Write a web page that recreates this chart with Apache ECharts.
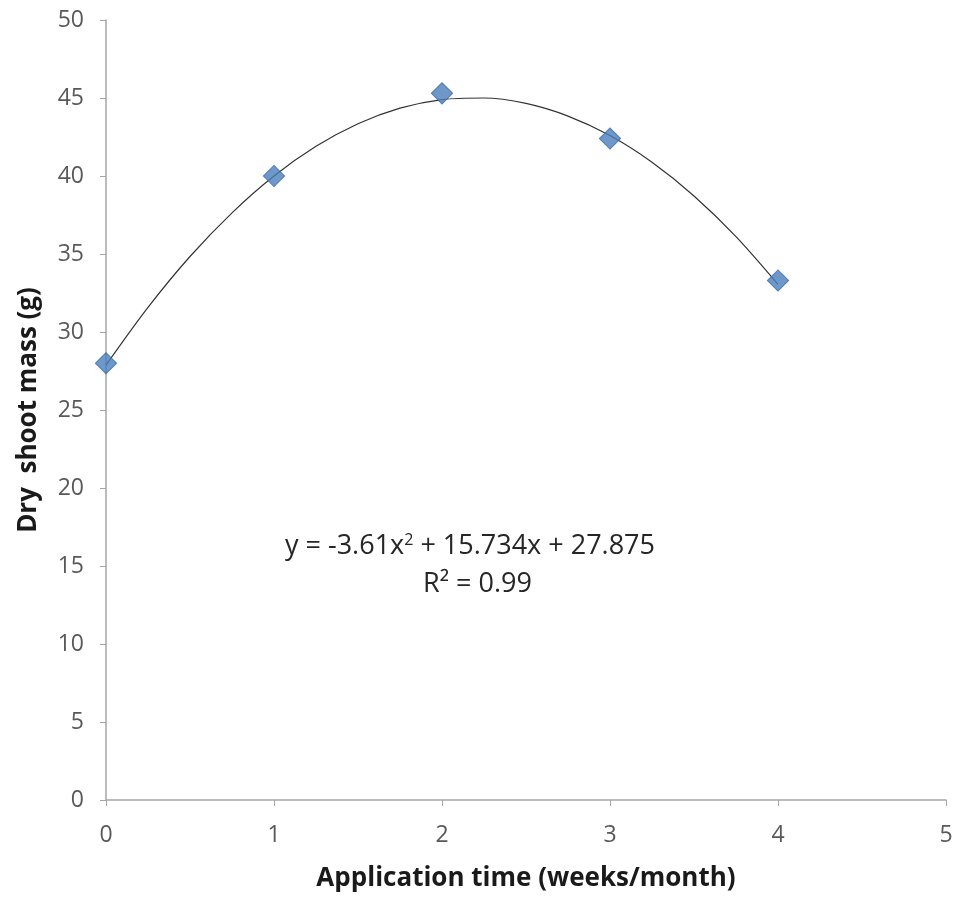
<!DOCTYPE html>
<html>
<head>
<meta charset="utf-8">
<script src="https://cdn.jsdelivr.net/npm/echarts@6/dist/echarts.min.js"></script>
<style>html,body{margin:0;padding:0;background:#fff}#c{width:958px;height:899px}</style>
</head>
<body>
<div id="c"></div>
<script>
var xValues = [0, 1, 2, 3, 4];
var dryShootMass = [28.0, 40.0, 45.3, 42.4, 33.3];
// polynomial trendline at quarter steps
var trendX = [0, 0.25, 0.5, 0.75, 1, 1.25, 1.5, 1.75, 2, 2.25, 2.5, 2.75, 3, 3.25, 3.5, 3.75, 4];
var trendY = [27.88, 31.58, 34.84, 37.64, 40.0, 41.90, 43.35, 44.35, 44.90, 45.00, 44.65, 43.84, 42.59, 40.88, 38.72, 36.11, 33.05];
var xTicks = [0, 1, 2, 3, 4, 5];
var yTicks = [0, 5, 10, 15, 20, 25, 30, 35, 40, 45, 50];

var chart = echarts.init(document.getElementById('c'), null, {renderer: 'canvas'});
var fontFam = '"Open Sans", "Liberation Sans", sans-serif';
chart.setOption({
  animation: false,
  backgroundColor: '#ffffff',
  grid: {left: 106, right: 12, top: 20, bottom: 99},
  xAxis: {
    type: 'value', min: xTicks[0], max: xTicks[xTicks.length - 1], interval: 1,
    name: 'Application time (weeks/month)', nameLocation: 'middle', nameGap: 66,
    nameTextStyle: {fontFamily: fontFam, fontSize: 26, fontWeight: 'bold', color: '#1a1a1a'},
    axisLine: {lineStyle: {color: '#a6a6a6', width: 1.5}},
    axisTick: {show: true, length: 6, lineStyle: {color: '#a6a6a6'}},
    axisLabel: {fontFamily: fontFam, fontSize: 23, color: '#595959', margin: 24},
    splitLine: {show: false}
  },
  yAxis: {
    type: 'value', min: yTicks[0], max: yTicks[yTicks.length - 1], interval: 5,
    name: 'Dry  shoot mass (g)', nameLocation: 'middle', nameGap: 64,
    nameTextStyle: {fontFamily: fontFam, fontSize: 26, fontWeight: 'bold', color: '#1a1a1a'},
    axisLine: {show: true, lineStyle: {color: '#a6a6a6', width: 1.5}},
    axisTick: {show: true, length: 6, lineStyle: {color: '#a6a6a6'}},
    axisLabel: {fontFamily: fontFam, fontSize: 23, color: '#595959', margin: 22},
    splitLine: {show: false}
  },
  series: [
    {
      type: 'line', smooth: 0.3, showSymbol: false, silent: true,
      data: trendX.map(function (x, i) { return [x, trendY[i]]; }),
      lineStyle: {color: '#333333', width: 1.2},
      z: 2
    },
    {
      type: 'scatter',
      data: xValues.map(function (x, i) { return [x, dryShootMass[i]]; }),
      symbol: 'rect', symbolSize: 15, symbolRotate: 45,
      itemStyle: {color: '#4a7ebb', borderColor: '#3a6aa5', borderWidth: 1},
      z: 3
    }
  ],
  graphic: [
    {
      type: 'text', left: 285, top: 532,
      style: {
        text: '{a|y = -3.61x}{s|2}{a| + 15.734x + 27.875}',
        rich: {
          a: {fontFamily: fontFam, fontSize: 27, fill: '#262626'},
          s: {fontFamily: fontFam, fontSize: 16, fill: '#262626', verticalAlign: 'top', padding: [0, 0, 12, 0]}
        }
      }
    },
    {
      type: 'text', left: 423, top: 571,
      style: {
        text: 'R² = 0.99',
        fontFamily: fontFam, fontSize: 27, fill: '#262626'
      }
    }
  ]
});
</script>
</body>
</html>
